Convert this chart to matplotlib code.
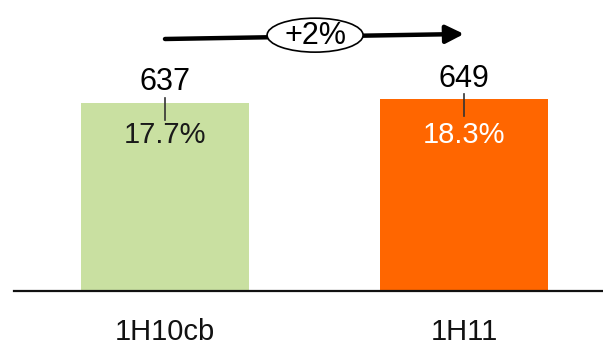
import matplotlib.pyplot as plt
from matplotlib.patches import Ellipse, FancyArrowPatch

plt.rcParams['font.family'] = ['Liberation Sans', 'DejaVu Sans']

# Data
categories = ["1H10cb", "1H11"]
values = [637, 649]
shares = ["17.7%", "18.3%"]
growth = "+2%"
bar_colors = ["#C9E0A1", "#FF6600"]
share_colors = ["#1a1a1a", "white"]

fig = plt.figure(figsize=(6.03, 3.45), dpi=100)
ax = fig.add_axes([14 / 603, 54 / 345, 589 / 603, 291 / 345])

x = list(range(len(categories)))
ax.bar(x, values, width=0.56, color=bar_colors, zorder=2)

ax.set_xlim(-0.505, 1.465)
ax.set_ylim(0, 985)
for s in ["top", "right", "left"]:
    ax.spines[s].set_visible(False)
ax.spines["bottom"].set_linewidth(1.6)
ax.spines["bottom"].set_color("#111111")
ax.set_yticks([])
ax.set_xticks([])

for i, (v, sh) in enumerate(zip(values, shares)):
    # value label above bar with leader line
    ax.annotate(str(v), (i, v), xytext=(0, 9), textcoords="offset points",
                ha="center", va="baseline", fontsize=22, color="black")
    ax.plot([i, i], [v + 17, v - 57], color="#333333", lw=1.2, zorder=3)
    ax.text(i, 502, sh, ha="center", va="baseline", fontsize=21,
            color=share_colors[i], zorder=3)
    ax.text(i, -0.168, categories[i], transform=ax.get_xaxis_transform(),
            ha="center", va="baseline", fontsize=21, color="#111111",
            clip_on=False)

# growth arrow
arr = FancyArrowPatch((0, 853), (1.0, 870), arrowstyle="-|>,head_length=0.9,head_width=0.45",
                      mutation_scale=12, lw=3.2, color="black", zorder=4,
                      shrinkA=0, shrinkB=0)
ax.add_patch(arr)
ax.add_patch(Ellipse((0.502, 866), 0.321, 115, facecolor="white",
                     edgecolor="black", lw=1.2, zorder=5))
ax.text(0.502, 862, growth, ha="center", va="center", fontsize=22, zorder=6)

fig.savefig("out.png", dpi=100)
